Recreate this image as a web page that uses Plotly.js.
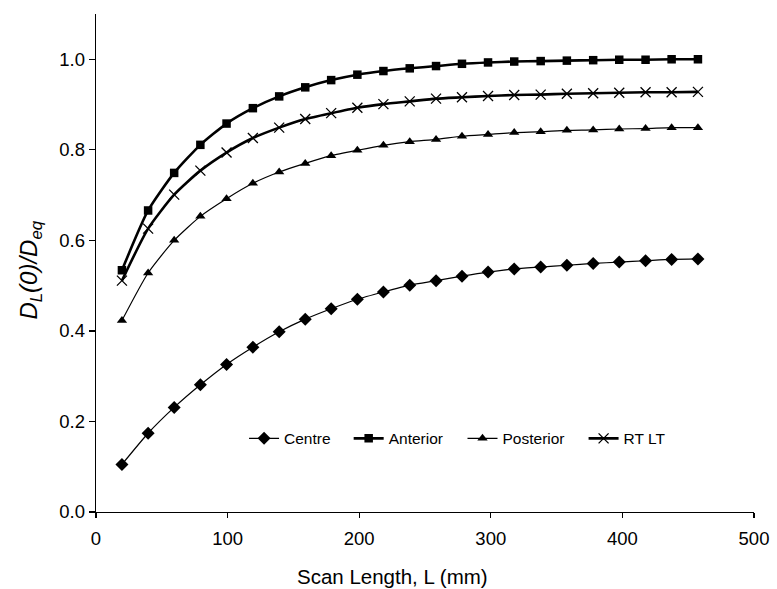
<!DOCTYPE html>
<html>
<head>
<meta charset="utf-8">
<script src="https://cdn.plot.ly/plotly-3.0.1.min.js"></script>
<style>html,body{margin:0;padding:0;background:#fff;}#chart{width:777px;height:589px;}</style>
</head>
<body>
<div id="chart"></div>
<script>
const scanLength = [19.7, 39.6, 59.4, 79.3, 99.2, 119.2, 139.2, 159.0, 178.7, 198.6, 218.4, 238.4, 258.4, 278.1, 297.9, 317.8, 337.9, 357.8, 377.8, 397.6, 417.6, 437.4, 457.4];
const centre    = [0.105, 0.174, 0.231, 0.281, 0.326, 0.364, 0.398, 0.426, 0.449, 0.470, 0.486, 0.501, 0.511, 0.521, 0.530, 0.537, 0.541, 0.545, 0.549, 0.552, 0.555, 0.558, 0.559];
const anterior  = [0.534, 0.666, 0.749, 0.811, 0.858, 0.892, 0.918, 0.938, 0.954, 0.966, 0.974, 0.980, 0.985, 0.990, 0.993, 0.995, 0.996, 0.997, 0.998, 0.999, 0.999, 1.000, 1.000];
const posterior = [0.423, 0.528, 0.600, 0.653, 0.692, 0.726, 0.751, 0.770, 0.787, 0.799, 0.810, 0.818, 0.823, 0.830, 0.834, 0.838, 0.840, 0.843, 0.844, 0.846, 0.847, 0.849, 0.849];
const rtlt      = [0.511, 0.626, 0.701, 0.754, 0.794, 0.826, 0.849, 0.868, 0.881, 0.893, 0.901, 0.907, 0.913, 0.916, 0.919, 0.921, 0.922, 0.924, 0.925, 0.926, 0.927, 0.927, 0.928];
const seriesNames = ["Centre", "Anterior", "Posterior", "RT LT"];
const xTickVals = [0, 100, 200, 300, 400, 500];
const yTickVals = [0, 0.2, 0.4, 0.6, 0.8, 1.0];
const xTitle = "Scan Length, L (mm)";
const yTitle = "<i>D<sub>L</sub>(0)/D<sub>eq</sub></i>";

const FONT = "Liberation Sans, Arial, sans-serif";

const traces = [
  {x: scanLength, y: centre, name: seriesNames[0], legend: "legend",
   mode: "lines+markers", line: {color: "#000", width: 1.2, shape: "spline", smoothing: 0.6},
   marker: {symbol: "diamond", size: 10, color: "#000"}},
  {x: scanLength, y: anterior, name: seriesNames[1], legend: "legend2",
   mode: "lines+markers", line: {color: "#000", width: 2.6, shape: "spline", smoothing: 0.6},
   marker: {symbol: "square", size: 8.5, color: "#000"}},
  {x: scanLength, y: posterior, name: seriesNames[2], legend: "legend3",
   mode: "lines+markers", line: {color: "#000", width: 1.2, shape: "spline", smoothing: 0.6},
   marker: {symbol: "triangle-up", size: 9, color: "#000"}},
  {x: scanLength, y: rtlt, name: seriesNames[3], legend: "legend4",
   mode: "lines+markers", line: {color: "#000", width: 2.6, shape: "spline", smoothing: 0.6},
   marker: {symbol: "x-thin-open", size: 10, color: "#000", line: {color: "#000", width: 1.3}}}
];

function lg(x) {
  return {x: x, y: 0.147, xanchor: "left", yanchor: "middle", orientation: "h",
          bgcolor: "rgba(0,0,0,0)", borderwidth: 0,
          font: {family: FONT, size: 15.5, color: "#000"}, itemwidth: 30, tracegroupgap: 0};
}

const layout = {
  width: 777, height: 589,
  margin: {l: 95.5, r: 22.7, t: 14, b: 76.7},
  paper_bgcolor: "#fff", plot_bgcolor: "#fff",
  font: {family: FONT, color: "#000"},
  showlegend: true,
  legend: lg(0.225), legend2: lg(0.384), legend3: lg(0.557), legend4: lg(0.741),
  xaxis: {
    range: [0, 500], tickvals: xTickVals, ticktext: xTickVals.map(String),
    showgrid: false, zeroline: false, showline: true, linecolor: "#000", linewidth: 1.3,
    ticks: "outside", ticklen: 5, tickwidth: 1.3, tickcolor: "#000", ticklabelstandoff: 4,
    tickfont: {family: FONT, size: 18.5, color: "#000"}
  },
  yaxis: {
    range: [0, 1.1], tickvals: yTickVals, ticktext: yTickVals.map(v => v.toFixed(1)),
    showgrid: false, zeroline: false, showline: true, linecolor: "#000", linewidth: 1.3,
    ticks: "outside", ticklen: 6, tickwidth: 1.3, tickcolor: "#000",
    tickfont: {family: FONT, size: 18.5, color: "#000"}
  },
  annotations: [
    {text: xTitle, xref: "paper", yref: "paper", x: 0.450, y: -0.130,
     xanchor: "center", yanchor: "middle", showarrow: false,
     font: {family: FONT, size: 20.5, color: "#000"}},
    {text: yTitle, xref: "paper", yref: "paper", x: -0.0994, y: 0.486,
     xanchor: "center", yanchor: "middle", showarrow: false, textangle: -90,
     font: {family: FONT, size: 24, color: "#000"}}
  ]
};

Plotly.newPlot("chart", traces, layout, {displayModeBar: false, staticPlot: true});
</script>
</body>
</html>
